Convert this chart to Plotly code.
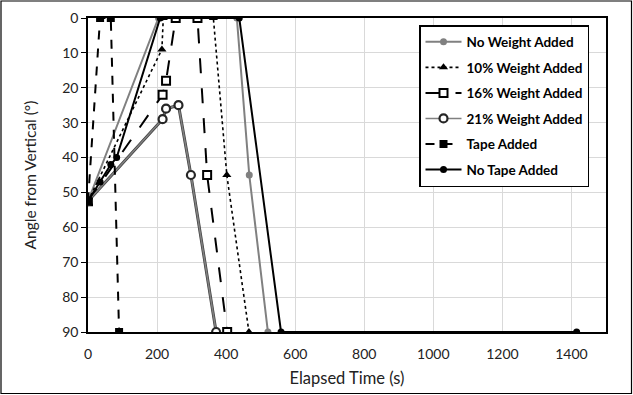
import plotly.graph_objects as go

# ---- data ----
series_names = ["No Weight Added", "10% Weight Added", "16% Weight Added",
                "21% Weight Added", "Tape Added", "No Tape Added"]

t_no_weight = [0, 204, 431, 467, 521]
a_no_weight = [52.5, 0, 0, 45, 90]

t_w10 = [0, 214, 218, 363, 402, 466]
a_w10 = [52.5, 9, 0, 0, 45, 90]

t_w16 = [0, 216, 226, 254, 317, 345, 403]
a_w16 = [52.5, 22, 18, 0, 0, 45, 90]

t_w21 = [0, 216, 226, 262, 298, 371]
a_w21 = [52.5, 29, 26, 25, 45, 90]

t_tape = [0, 35, 66, 90]
a_tape = [52.5, 0, 0, 90]

t_notape = [0, 35, 66, 83, 209, 438, 559, 1415]
a_notape = [52.5, 47, 42, 40, 0, 0, 90, 90]

x_ticks = [0, 200, 400, 600, 800, 1000, 1200, 1400]
y_ticks = [0, 10, 20, 30, 40, 50, 60, 70, 80, 90]

GRAY = "#808080"
FONT = "Lato"

fig = go.Figure()

# underlay dark line for the 21% series (double-line look)
fig.add_trace(go.Scatter(x=t_w21, y=a_w21, mode="lines",
                         line=dict(color="#404040", width=3),
                         showlegend=False, hoverinfo="skip", legendgroup="g4"))

fig.add_trace(go.Scatter(
    x=t_no_weight, y=a_no_weight, name=series_names[0], mode="lines+markers",
    line=dict(color=GRAY, width=2),
    marker=dict(symbol="circle", size=7, color=GRAY), legendgroup="g1"))

fig.add_trace(go.Scatter(
    x=t_w10, y=a_w10, name=series_names[1], mode="lines+markers",
    line=dict(color="black", width=1.6, dash="dot"),
    marker=dict(symbol="triangle-up", size=8, color="black"), legendgroup="g2"))

fig.add_trace(go.Scatter(
    x=t_w16, y=a_w16, name=series_names[2], mode="lines+markers",
    line=dict(color="black", width=2, dash="longdash"),
    marker=dict(symbol="square", size=8, color="white",
                line=dict(color="black", width=2)), legendgroup="g3"))

fig.add_trace(go.Scatter(
    x=t_w21, y=a_w21, name=series_names[3], mode="lines+markers",
    line=dict(color=GRAY, width=1.6),
    marker=dict(symbol="circle", size=8, color="white",
                line=dict(color="#262626", width=2.2)), legendgroup="g4"))

fig.add_trace(go.Scatter(
    x=t_tape, y=a_tape, name=series_names[4], mode="lines+markers",
    line=dict(color="black", width=2, dash="dash"),
    marker=dict(symbol="square", size=8, color="black"), legendgroup="g5"))

fig.add_trace(go.Scatter(
    x=t_notape, y=a_notape, name=series_names[5], mode="lines+markers",
    line=dict(color="black", width=2),
    marker=dict(symbol="circle", size=7, color="black"), legendgroup="g6"))

W, H = 633, 395
L, R, T, B = 88, 27, 18, 63
pw, ph = W - L - R, H - T - B

def px2x(p):
    return (p - L) / pw

def py2y(p):
    return (H - B - p) / ph

fig.update_layout(
    width=W, height=H,
    margin=dict(l=L, r=R, t=T, b=B, autoexpand=False),
    paper_bgcolor="white", plot_bgcolor="white",
    font=dict(family=FONT, color="#222222", size=14),
    showlegend=True,
    legend=dict(
        x=px2x(419), y=py2y(25), xanchor="left", yanchor="top",
        bgcolor="white", bordercolor="black", borderwidth=1.5,
        font=dict(family=FONT, size=13.5, color="black", weight="bold"),
        tracegroupgap=5, traceorder="grouped",
        itemwidth=36,
    ),
    xaxis=dict(
        range=[0, 1500], tickvals=x_ticks, ticktext=[str(v) for v in x_ticks],
        showgrid=True, gridcolor="#d9d9d9", gridwidth=1,
        showline=True, linecolor="black", linewidth=1.5, mirror=True,
        zeroline=False, ticks="", tickfont=dict(size=14), automargin=False,
        ticklabelstandoff=8,
        title=dict(text="Elapsed Time (s)", font=dict(size=16.5), standoff=12),
    ),
    yaxis=dict(
        range=[90, 0], tickvals=y_ticks, ticktext=[str(v) for v in y_ticks],
        showgrid=True, gridcolor="#d9d9d9", gridwidth=1,
        showline=True, linecolor="black", linewidth=1.5, mirror=True,
        zeroline=False, ticks="outside", ticklen=5, tickcolor="black",
        tickfont=dict(size=14), automargin=False,
        title=dict(text="Angle from Vertical (°)", font=dict(size=15.5), standoff=22),
    ),
    shapes=[dict(type="rect", xref="paper", yref="paper",
                 x0=px2x(1), x1=px2x(W - 1.5), y0=py2y(H - 1.5), y1=py2y(1),
                 line=dict(color="black", width=1.2), fillcolor="rgba(0,0,0,0)",
                 layer="below")],
)

fig.write_html("out.html", post_script="document.body.style.margin='0';",
               config={"displayModeBar": False})
